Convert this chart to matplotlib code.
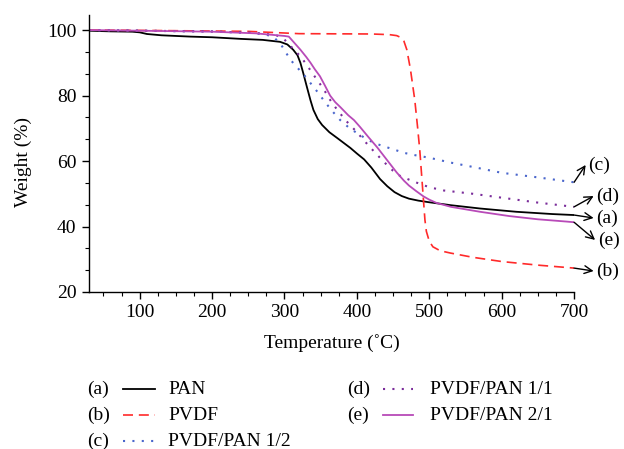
import matplotlib
matplotlib.use("Agg")
import matplotlib.pyplot as plt
from matplotlib.lines import Line2D
from matplotlib.ticker import MultipleLocator, AutoMinorLocator

plt.rcParams["font.family"] = ["Liberation Serif", "DejaVu Serif"]

# TGA curves (temperature in C, weight in %)
pan_t = [30, 60, 90, 100, 110, 130, 170, 200, 240, 270, 294, 304, 312, 318, 322, 326, 331, 336, 340,
         346, 352, 362, 373, 382, 391, 400, 410, 420, 432, 442, 452, 462, 472, 485, 500, 530, 570, 620, 670, 700]
pan_w = [99.8, 99.6, 99.5, 99.3, 98.8, 98.4, 98.0, 97.8, 97.3, 97.0, 96.4, 95.6, 94.0, 92.3, 90.0, 86.8, 82.6, 78.5, 75.6,
         72.8, 71.0, 68.8, 67.0, 65.5, 64.0, 62.3, 60.5, 58.0, 54.5, 52.3, 50.5, 49.3, 48.5, 47.9, 47.4, 46.5, 45.5, 44.5, 43.8, 43.5]

pvdf_t = [30, 100, 150, 250, 290, 320, 420, 445, 455, 460, 465, 469, 474, 480, 484, 487, 490, 492, 494,
          496, 500, 505, 515, 529, 560, 600, 650, 700]
pvdf_w = [100.0, 99.9, 99.8, 99.6, 99.2, 98.9, 98.8, 98.6, 98.3, 97.8, 96.6, 94.0, 88.0, 78.6, 70.0, 63.0, 54.0, 48.0, 42.0,
          38.5, 35.5, 33.8, 32.6, 31.9, 30.6, 29.3, 28.2, 27.3]

p12_t = [30, 100, 200, 250, 275, 285, 294, 301, 308, 315, 322, 330, 338, 346, 354, 365, 377, 390, 404,
         415, 425, 437, 450, 465, 480, 500, 530, 560, 600, 650, 700]
p12_w = [100.0, 99.8, 99.5, 99.2, 98.6, 97.8, 96.0, 93.5, 91.0, 89.2, 87.5, 85.5, 83.2, 81.0, 78.6, 75.5, 72.5, 70.0, 68.0,
         66.5, 65.4, 64.5, 63.6, 62.5, 61.8, 61.0, 59.5, 58.2, 56.4, 55.0, 53.5]

p11_t = [30, 100, 200, 270, 290, 298, 305, 313, 322, 330, 338, 346, 354, 362, 370, 377, 385, 395, 404,
         415, 425, 437, 450, 460, 470, 480, 490, 500, 520, 560, 600, 650, 700]
p11_w = [100.0, 99.8, 99.6, 99.0, 98.3, 97.5, 96.0, 94.0, 92.0, 89.6, 87.0, 84.5, 82.0, 79.0, 76.5, 74.5, 72.3, 70.0, 67.8,
         65.0, 62.6, 59.8, 57.0, 55.4, 54.5, 53.6, 52.8, 52.0, 51.0, 50.0, 48.8, 47.3, 46.0]

p21_t = [30, 100, 200, 260, 290, 300, 306, 314, 322, 330, 336, 342, 349, 356, 363, 370, 377, 388, 396, 404,
         416, 428, 442, 455, 465, 472, 482, 492, 500, 510, 530, 570, 610, 650, 690, 700]
p21_w = [100.0, 99.8, 99.5, 99.0, 98.4, 98.2, 98.0, 96.0, 94.0, 91.8, 90.0, 88.0, 85.9, 83.0, 80.0, 78.0, 76.5, 74.0, 72.5, 70.5,
         67.3, 64.2, 60.2, 56.5, 54.0, 52.5, 50.8, 49.2, 48.2, 47.2, 46.0, 44.5, 43.2, 42.2, 41.5, 41.3]

tags = ["(a)", "(b)", "(c)", "(d)", "(e)"]
names = ["PAN", "PVDF", "PVDF/PAN 1/2", "PVDF/PAN 1/1", "PVDF/PAN 2/1"]
colors = ["black", "#ff2a2a", "#4a66cc", "#7a2c9a", "#b84ab8"]
styles = [dict(ls="-", lw=1.3), dict(ls=(0, (6, 3.5)), lw=1.2), dict(ls=(0, (1, 3.5)), lw=1.5),
          dict(ls=(0, (1, 3.5)), lw=1.5), dict(ls="-", lw=1.3)]

series = [(pan_t, pan_w), (pvdf_t, pvdf_w), (p12_t, p12_w), (p11_t, p11_w), (p21_t, p21_w)]

FS = 14

fig = plt.figure(figsize=(6.24, 4.49), dpi=100)
ax = fig.add_axes([0.1426, 0.3497, 0.7774, 0.6169])

for (t, w), c, st in zip(series, colors, styles):
    ax.plot(t, w, color=c, **st)

ax.set_xlim(30, 700)
ax.set_ylim(20, 104.6)
ax.xaxis.set_major_locator(MultipleLocator(100))
ax.xaxis.set_minor_locator(MultipleLocator(25))
ax.yaxis.set_major_locator(MultipleLocator(20))
ax.yaxis.set_minor_locator(AutoMinorLocator(3))
ax.spines["top"].set_visible(False)
ax.spines["right"].set_visible(False)
for s in ["left", "bottom"]:
    ax.spines[s].set_linewidth(1.0)
ax.tick_params(which="major", direction="out", length=5, width=1.0, labelsize=FS, pad=4)
ax.tick_params(which="minor", direction="out", length=3, width=0.8)
ax.set_xlabel("Temperature (˚C)", fontsize=FS, labelpad=9)
ax.set_ylabel("Weight (%)", fontsize=FS)
ax.yaxis.set_label_coords(-0.118, 0.47)

# end-of-curve arrows with labels: (series index, curve end weight, label weight, arrow tip T, text T)
ends = [(2, 53.5, 58.8, 716, 719), (3, 46.0, 49.3, 727, 730), (0, 43.5, 42.6, 727, 731),
        (4, 41.3, 35.9, 729, 733), (1, 27.3, 26.4, 727, 731)]
for idx, yend, ylab, xtip, xtxt in ends:
    ax.annotate("", xy=(xtip, ylab), xytext=(700, yend), xycoords="data", textcoords="data",
                arrowprops=dict(arrowstyle="->", lw=1.0, color="black", shrinkA=0, shrinkB=0,
                                mutation_scale=14),
                annotation_clip=False)
    ax.text(xtxt, ylab, tags[idx], fontsize=FS, va="center", ha="left", clip_on=False)

# manual legend below the axes (pixel positions on the 624x449 canvas)
W, H = 624.0, 449.0
rows = [389, 415, 441]
cols = [(87, 123, 155, 168), (347, 383, 413, 430)]
for i in range(5):
    col = cols[0] if i < 3 else cols[1]
    y = rows[i] if i < 3 else rows[i - 3]
    fy = 1 - y / H
    fig.text(col[0] / W, fy, tags[i], fontsize=FS, va="center", ha="left")
    fig.add_artist(Line2D([col[1] / W, col[2] / W], [fy, fy], color=colors[i], **styles[i]))
    fig.text(col[3] / W, fy, names[i], fontsize=FS, va="center", ha="left")

fig.savefig("out.png", dpi=100, facecolor="white")
